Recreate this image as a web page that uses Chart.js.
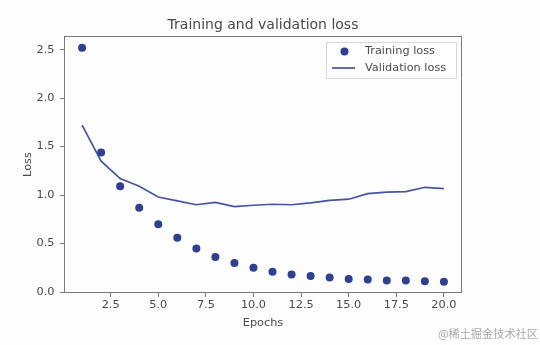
<!DOCTYPE html>
<html>
<head>
<meta charset="utf-8">
<script src="https://cdn.jsdelivr.net/npm/chart.js@4.4.1/dist/chart.umd.min.js"></script>
<style>
  html, body { margin: 0; padding: 0; background: #fefdfd; }
  #wrap { width: 540px; height: 345px; position: relative; }
</style>
</head>
<body>
<div id="wrap"><canvas id="c" width="540" height="345"></canvas></div>
<script>
const epochs = [1,2,3,4,5,6,7,8,9,10,11,12,13,14,15,16,17,18,19,20];
const trainingLoss = [2.52,1.44,1.09,0.87,0.70,0.56,0.45,0.36,0.30,0.25,0.21,0.18,0.165,0.15,0.135,0.13,0.12,0.12,0.11,0.105];
const validationLoss = [1.72,1.35,1.17,1.09,0.98,0.94,0.90,0.925,0.88,0.895,0.905,0.90,0.92,0.945,0.957,1.015,1.03,1.035,1.08,1.067];
const xTickValues = [2.5,5.0,7.5,10.0,12.5,15.0,17.5,20.0];
const yTickValues = [0.0,0.5,1.0,1.5,2.0,2.5];
const titleText = 'Training and validation loss';
const xLabel = 'Epochs';
const yLabel = 'Loss';
const seriesNames = ['Training loss','Validation loss'];
const watermark = '@稀土掘金技术社区';

const FONT = "'DejaVu Sans', sans-serif";
const TEXT = '#4a4a4a';
const AXIS = '#7a7a7a';
const DOT = '#2f3f93';
const LINE = '#4654a6';
const FS = 11.3;

const decor = {
  id: 'decor',
  afterDraw(chart) {
    const ctx = chart.ctx, a = chart.chartArea;
    const cx = (a.left + a.right) / 2;
    ctx.save();
    // frame
    ctx.strokeStyle = AXIS; ctx.lineWidth = 1;
    ctx.strokeRect(a.left + 0.5, a.top + 0.5, a.right - a.left - 1, a.bottom - a.top - 1);
    // title
    ctx.fillStyle = TEXT;
    ctx.font = '14px ' + FONT;
    ctx.textAlign = 'center'; ctx.textBaseline = 'alphabetic';
    ctx.fillText(titleText, cx, 28.5);
    // axis labels
    ctx.font = FS + 'px ' + FONT;
    ctx.textBaseline = 'middle';
    ctx.fillText(xLabel, cx, 323);
    ctx.save();
    ctx.translate(28, (a.top + a.bottom) / 2);
    ctx.rotate(-Math.PI / 2);
    ctx.fillText(yLabel, 0, 0);
    ctx.restore();
    // legend
    const lx = 326, ly = 42, lw = 131, lh = 37;
    ctx.fillStyle = 'rgba(255,255,255,0.85)';
    ctx.strokeStyle = '#d8d8d8';
    ctx.fillRect(lx, ly, lw, lh);
    ctx.strokeRect(lx + 0.5, ly + 0.5, lw - 1, lh - 1);
    ctx.fillStyle = DOT;
    ctx.beginPath(); ctx.arc(344.5, 51.5, 4, 0, Math.PI * 2); ctx.fill();
    ctx.strokeStyle = LINE; ctx.lineWidth = 1.7;
    ctx.beginPath(); ctx.moveTo(332, 68); ctx.lineTo(355, 68); ctx.stroke();
    ctx.fillStyle = TEXT;
    ctx.font = FS + 'px ' + FONT;
    ctx.textAlign = 'left'; ctx.textBaseline = 'middle';
    ctx.fillText(seriesNames[0], 365, 51.5);
    ctx.fillText(seriesNames[1], 365, 68);
    // watermark
    ctx.fillStyle = '#a9a9a9';
    ctx.font = "11.2px 'Noto Sans CJK SC', sans-serif";
    ctx.textAlign = 'right';
    ctx.fillText(watermark, 538, 334);
    ctx.restore();
  }
};

new Chart(document.getElementById('c'), {
  type: 'scatter',
  data: {
    datasets: [
      {
        label: seriesNames[0],
        data: epochs.map((e, i) => ({ x: e, y: trainingLoss[i] })),
        showLine: false,
        pointRadius: 4,
        pointBackgroundColor: DOT,
        pointBorderWidth: 0,
        pointBorderColor: DOT
      },
      {
        label: seriesNames[1],
        data: epochs.map((e, i) => ({ x: e, y: validationLoss[i] })),
        showLine: true,
        borderColor: LINE,
        borderWidth: 1.7,
        pointRadius: 0,
        tension: 0
      }
    ]
  },
  options: {
    responsive: false,
    animation: false,
    devicePixelRatio: 1,
    layout: { padding: { top: 36, right: 78, left: 0, bottom: 0 } },
    plugins: { legend: { display: false }, tooltip: { enabled: false }, title: { display: false } },
    scales: {
      x: {
        type: 'linear',
        min: 0.05, max: 20.95,
        afterBuildTicks: s => { s.ticks = xTickValues.map(v => ({ value: v })); },
        afterFit: s => { s.height = 52; },
        grid: { drawOnChartArea: false, drawTicks: true, tickLength: 4, tickColor: AXIS },
        border: { display: false },
        ticks: { color: TEXT, font: { family: FONT, size: FS }, padding: 1.5, maxRotation: 0, autoSkip: false,
                 callback: v => Number(v).toFixed(1) }
      },
      y: {
        type: 'linear',
        min: -0.01, max: 2.64,
        afterBuildTicks: s => { s.ticks = yTickValues.map(v => ({ value: v })); },
        afterFit: s => { s.width = 64; },
        grid: { drawOnChartArea: false, drawTicks: true, tickLength: 4, tickColor: AXIS },
        border: { display: false },
        ticks: { color: TEXT, font: { family: FONT, size: FS }, padding: 5.5, autoSkip: false,
                 callback: v => Number(v).toFixed(1) }
      }
    }
  },
  plugins: [decor]
});
</script>
</body>
</html>
